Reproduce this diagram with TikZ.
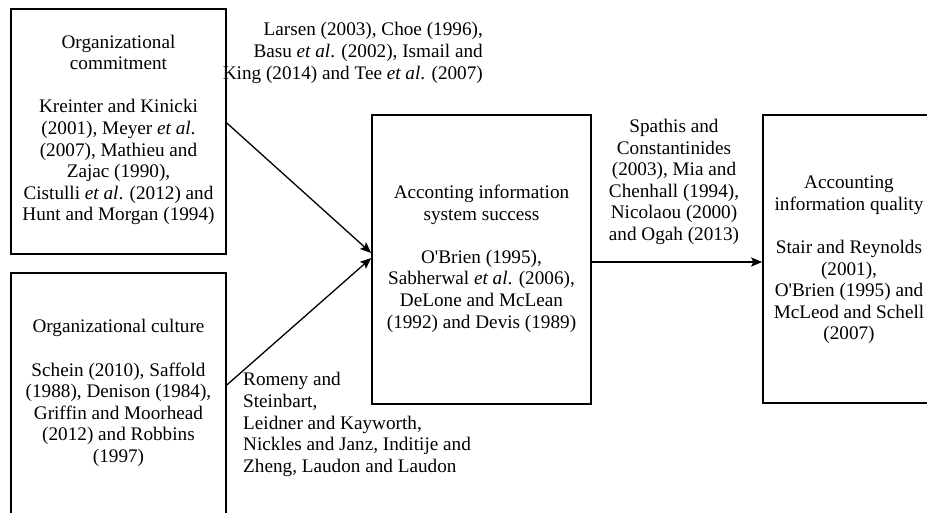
\documentclass[tikz,border=0pt]{standalone}
\usepackage{fontspec}
\setmainfont{Liberation Serif}
\usetikzlibrary{arrows.meta}
\newcommand{\apos}{\textquotesingle}
\begin{document}
\begin{tikzpicture}[x=1pt,y=-1pt,
  box/.style={draw,line width=1.6pt,rectangle,inner sep=0pt},
  txt/.style={align=center,inner sep=0pt,font=\fontsize{19.2}{21.6}\selectfont},
  conn/.style={line width=1.3pt,-{Stealth[length=11pt,width=9pt,inset=2pt]}}]
\useasboundingbox (0,0) rectangle (927,513);
% boxes
\node[box,minimum width=215pt,minimum height=245pt] (b1) at (118.5,131.5) {};
\node[box,minimum width=215pt,minimum height=245pt] (b2) at (118.5,395.5) {};
\node[box,minimum width=219pt,minimum height=289pt] (b3) at (481.5,259.5) {};
\node[box,minimum width=219pt,minimum height=288pt] (b4) at (872.5,259) {};
% box texts
\node[txt] (t1) at (118.5,130) {Organizational\\commitment\\[21.6pt]Kreinter and Kinicki\\(2001), Meyer \textit{et al}.\\(2007), Mathieu and\\Zajac (1990),\\Cistulli \textit{et al}. (2012) and\\Hunt and Morgan (1994)};
\node[txt] (t2) at (118.5,393) {Organizational culture\\[21.6pt]Schein (2010), Saffold\\(1988), Denison (1984),\\Griffin and Moorhead\\(2012) and Robbins\\(1997)};
\node[txt] (t3) at (481.5,258.5) {Acconting information\\system success\\[21.6pt]O\apos Brien (1995),\\Sabherwal \textit{et al}. (2006),\\DeLone and McLean\\(1992) and Devis (1989)};
\node[txt] (t4) at (849,260) {Accounting\\information quality\\[21.6pt]Stair and Reynolds\\(2001),\\O\apos Brien (1995) and\\McLeod and Schell\\(2007)};
% connector labels
\node[txt,align=right,anchor=east] (l1) at (483,53) {Larsen (2003), Choe (1996),\\Basu \textit{et al}. (2002), Ismail and\\King (2014) and Tee \textit{et al}. (2007)};
\node[txt,align=left,anchor=west] (l2) at (243,424.5) {Romeny and\\Steinbart,\\Leidner and Kayworth,\\Nickles and Janz, Inditije and\\Zheng, Laudon and Laudon};
\node[txt] (l3) at (674,182) {Spathis and\\Constantinides\\(2003), Mia and\\Chenhall (1994),\\Nicolaou (2000)\\and Ogah (2013)};
% connectors
\coordinate (s1) at ([yshift=8.5pt]b1.east);
\coordinate (e1) at ([yshift=6.5pt]b3.west);
\coordinate (s2) at ([yshift=10.5pt]b2.east);
\coordinate (e2) at ([yshift=1.5pt]b3.west);
\coordinate (s3) at ([yshift=-2.5pt]b3.east);
\draw[conn] (s1) -- (e1);
\draw[conn] (s2) -- (e2);
\draw[conn] (s3) -- (s3 -| b4.west);
\end{tikzpicture}
\end{document}
